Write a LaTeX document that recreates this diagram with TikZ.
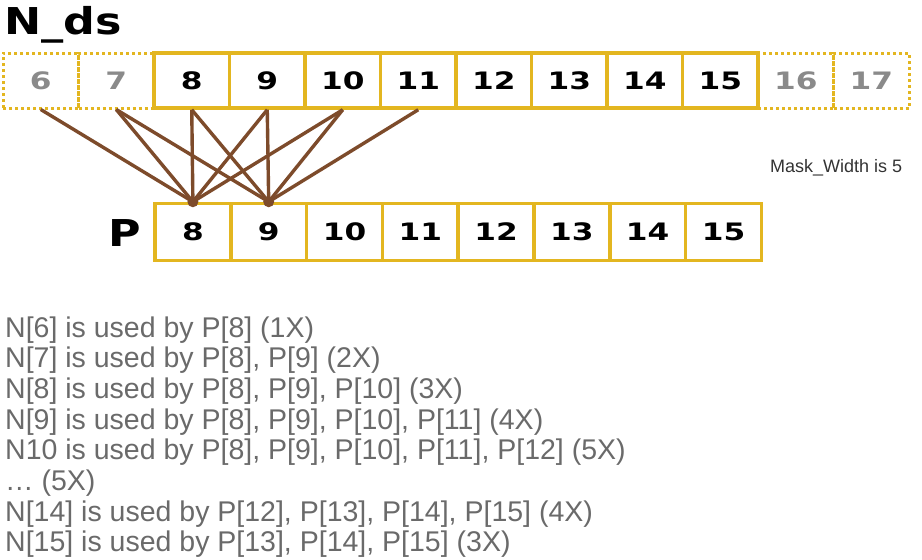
\documentclass[tikz,border=0pt]{standalone}
\usepackage{fontspec}
\setmainfont{Liberation Sans}
\newfontfamily\cellfont[FakeStretch=1.3]{DejaVu Sans}
\newfontfamily\titlefont[FakeStretch=1.2]{DejaVu Sans}
\definecolor{gold}{HTML}{E3B620}
\definecolor{conn}{HTML}{7D4B2B}
\definecolor{ghost}{HTML}{8A8A8A}
\definecolor{txtgray}{HTML}{6A6A6A}
\tikzset{
  cellbase/.style={minimum width=75.5pt, minimum height=55pt, inner sep=0pt,
    font=\cellfont\bfseries\fontsize{24}{24}\selectfont},
  solidcell/.style={cellbase, draw=gold, line width=3.5pt, fill=white, text=black},
  ghostcell/.style={cellbase, draw=gold, line width=3pt, dash pattern=on 3pt off 3pt, text=ghost},
  pcell/.style={cellbase, minimum width=75.8pt, minimum height=57pt, draw=gold, line width=3.5pt, fill=white, text=black},
  link/.style={draw=conn, line width=3.4pt},
  joint/.style={circle, fill=conn, inner sep=0pt, minimum size=11pt},
  title/.style={font=\titlefont\bfseries\fontsize{37}{37}\selectfont, inner sep=0pt},
  note/.style={font=\fontsize{28.5}{28.5}\selectfont, text=txtgray, anchor=base west, inner sep=0pt},
  mask/.style={font=\fontsize{18}{18}\selectfont, text=black!80, anchor=base west, inner sep=0pt}
}
\begin{document}
\begin{tikzpicture}[x=1pt,y=-1pt]
\useasboundingbox (0,0) rectangle (922,560);
% N_ds row
\foreach \v/\i in {6/0,7/1,16/10,17/11}
  \node[ghostcell] (n\v) at ({3+75.5*(\i+0.5)},80.5) {\v};
\foreach \v/\i in {8/2,9/3,10/4,11/5,12/6,13/7,14/8,15/9}
  \node[solidcell] (n\v) at ({3+75.5*(\i+0.5)},80.5) {\v};
% P row
\foreach \v/\j in {8/0,9/1,10/2,11/3,12/4,13/5,14/6,15/7}
  \node[pcell] (p\v) at ({155+75.8*(\j+0.5)},232) {\v};
% titles
\node[title, anchor=north west] (nds) at (4,6) {N\_ds};
\node[title] (plabel) at (125,233) {P};
% connectors
\foreach \a in {6,7,8,9,10} \draw[link] (n\a.south) -- (p8.north);
\foreach \a in {7,8,9,10,11} \draw[link] (n\a.south) -- (p9.north);
\node[joint] (j8) at (p8.north) {};
\node[joint] (j9) at (p9.north) {};
% mask width
\node[mask] (mw) at (770,172) {Mask\_Width is 5};
% notes
\node[note] (l1) at (5,337) {N[6] is used by P[8] (1X)};
\node[note] (l2) at (5,367.7) {N[7] is used by P[8], P[9] (2X)};
\node[note] (l3) at (5,398.4) {N[8] is used by P[8], P[9], P[10] (3X)};
\node[note] (l4) at (5,429.1) {N[9] is used by P[8], P[9], P[10], P[11] (4X)};
\node[note] (l5) at (5,459.8) {N10 is used by P[8], P[9], P[10], P[11], P[12] (5X)};
\node[note] (l6) at (5,490.5) {\ldots{} (5X)};
\node[note] (l7) at (5,521.2) {N[14] is used by P[12], P[13], P[14], P[15] (4X)};
\node[note] (l8) at (5,551.9) {N[15] is used by P[13], P[14], P[15] (3X)};
\end{tikzpicture}
\end{document}
